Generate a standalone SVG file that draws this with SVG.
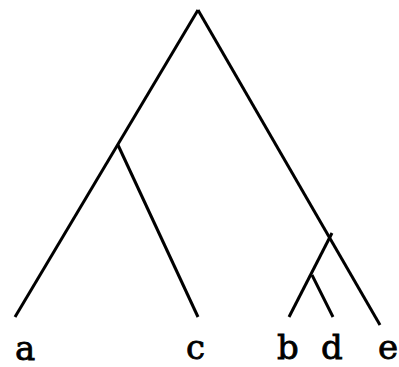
<svg xmlns="http://www.w3.org/2000/svg" width="399" height="367" viewBox="0 0 399 367">
<style>
.e{stroke:#000;stroke-width:3;fill:none;stroke-linecap:butt}
.t{font-family:"DejaVu Serif","Liberation Serif",serif;font-size:34px;fill:#000;stroke:#000;stroke-width:0.8}
</style>
<rect width="399" height="367" fill="#fff"/>
<g id="connectors">
<line class="e" x1="198" y1="10" x2="15" y2="317"/>
<line class="e" x1="198" y1="10" x2="380" y2="325"/>
<line class="e" x1="118" y1="145" x2="198" y2="317"/>
<line class="e" x1="332" y1="233" x2="289" y2="317"/>
<line class="e" x1="312" y1="275" x2="333" y2="317"/>
</g>
<g id="a"><text class="t" x="15" y="360">a</text></g>
<g id="c"><text class="t" x="186" y="359">c</text></g>
<g id="b"><text class="t" x="277" y="359">b</text></g>
<g id="d"><text class="t" x="321" y="359">d</text></g>
<g id="e"><text class="t" x="378" y="359">e</text></g>
</svg>
